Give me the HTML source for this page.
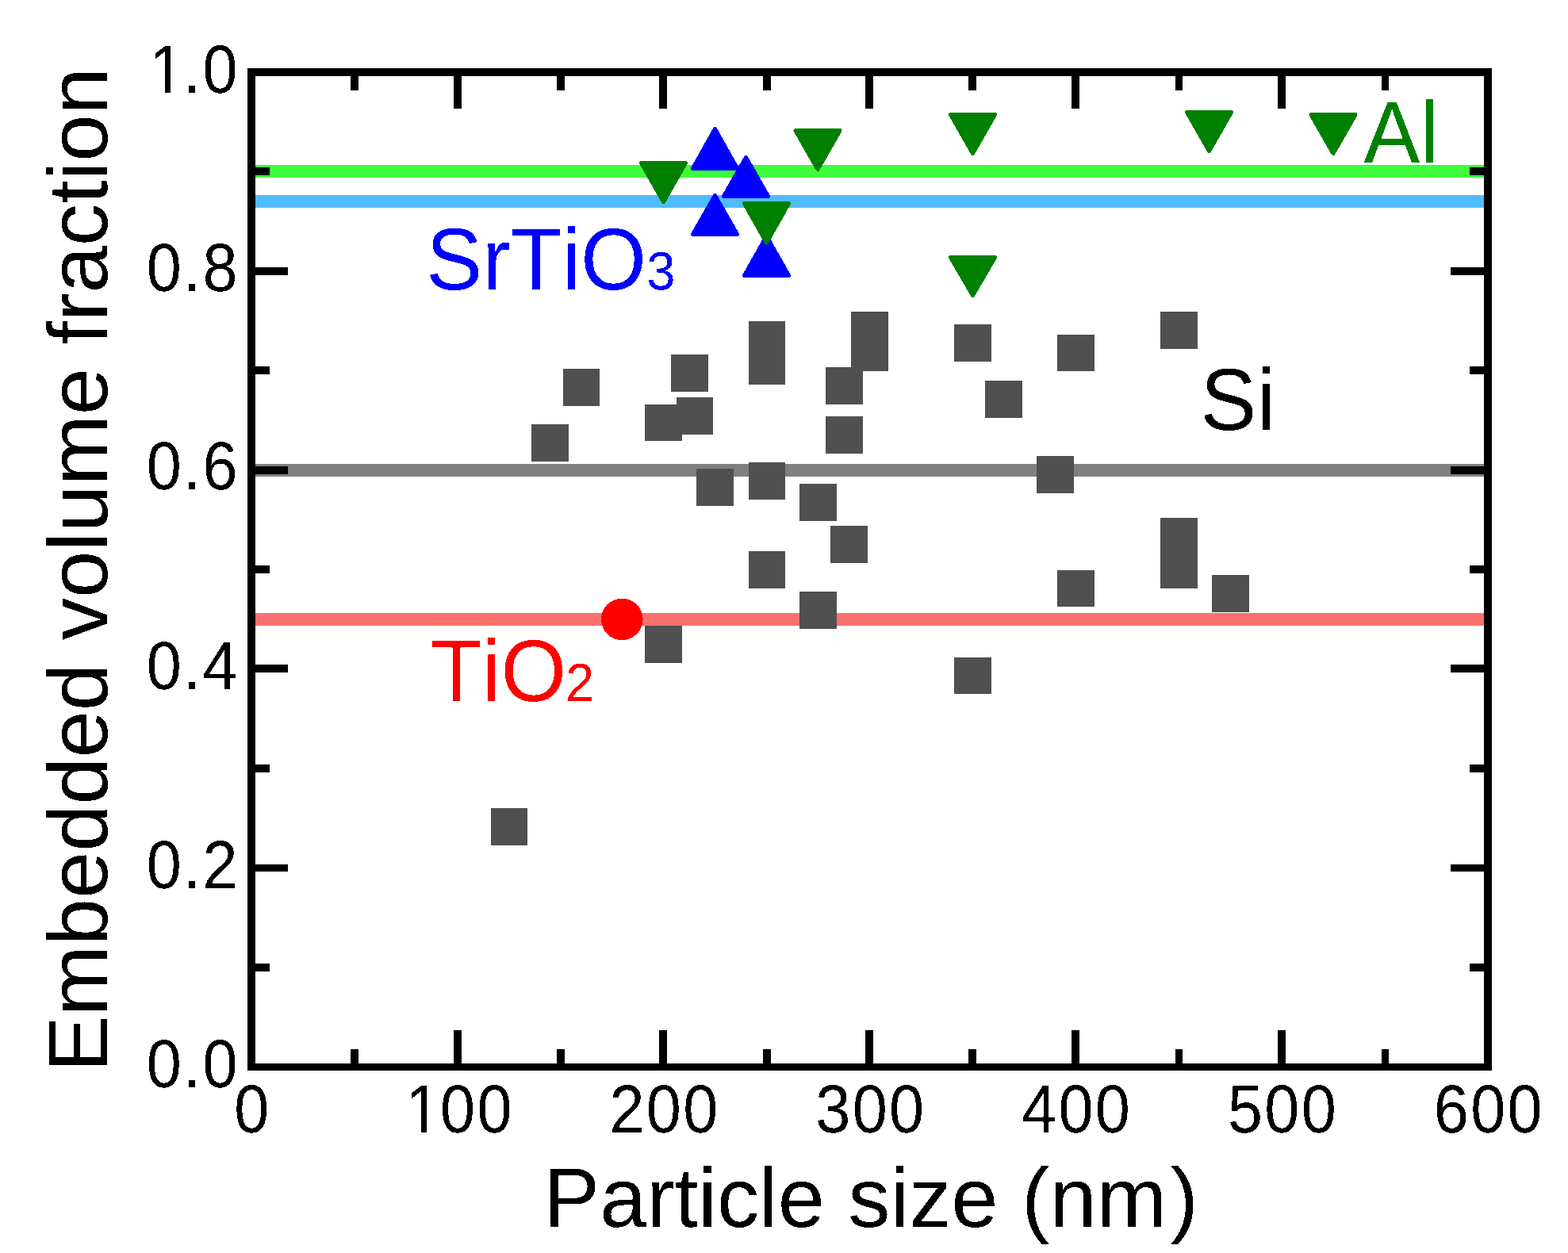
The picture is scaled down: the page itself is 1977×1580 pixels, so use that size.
<!DOCTYPE html>
<html lang="en"><head><meta charset="utf-8"><title>Embedded volume fraction vs particle size</title>
<style>
html,body{margin:0;padding:0;background:#fff;}
body{width:1977px;height:1580px;overflow:hidden;}
svg{display:block;}
text{font-family:"Liberation Sans", sans-serif;font-kerning:none;font-variant-ligatures:none;text-rendering:geometricPrecision;}
</style>
</head><body>
<svg width="1977" height="1580" viewBox="0 0 1977 1580">
<defs><filter id="hard" x="-5%" y="-5%" width="110%" height="110%" color-interpolation-filters="sRGB"><feComponentTransfer><feFuncA type="discrete" tableValues="0 1"/></feComponentTransfer></filter></defs>
<rect x="0" y="0" width="1977" height="1580" fill="#ffffff"/>
<g shape-rendering="crispEdges">
<rect x="322" y="208" width="1549" height="16" fill="#3cfc3c"/>
<rect x="322" y="246" width="1549" height="16" fill="#50bcfc"/>
<rect x="322" y="585" width="1549" height="16" fill="#808080"/>
<rect x="322" y="773" width="1549" height="16" fill="#fc7070"/>
</g>
<g fill="#505050" shape-rendering="crispEdges">
<rect x="619" y="1019" width="46" height="47"/>
<rect x="670" y="535" width="47" height="47"/>
<rect x="710" y="465" width="46" height="47"/>
<rect x="813" y="510" width="47" height="46"/>
<rect x="853" y="501" width="46" height="47"/>
<rect x="846" y="447" width="47" height="47"/>
<rect x="878" y="591" width="47" height="47"/>
<rect x="944" y="405" width="46" height="47"/>
<rect x="944" y="438" width="46" height="47"/>
<rect x="944" y="583" width="46" height="47"/>
<rect x="944" y="695" width="46" height="47"/>
<rect x="1008" y="610" width="47" height="47"/>
<rect x="1008" y="746" width="47" height="47"/>
<rect x="1041" y="463" width="47" height="47"/>
<rect x="1041" y="525" width="47" height="47"/>
<rect x="1047" y="663" width="47" height="47"/>
<rect x="1073" y="393" width="47" height="47"/>
<rect x="1073" y="421" width="47" height="47"/>
<rect x="1203" y="409" width="47" height="47"/>
<rect x="1203" y="829" width="47" height="46"/>
<rect x="1242" y="480" width="47" height="47"/>
<rect x="1307" y="575" width="47" height="47"/>
<rect x="1333" y="422" width="47" height="46"/>
<rect x="1333" y="719" width="47" height="46"/>
<rect x="1463" y="393" width="47" height="47"/>
<rect x="1463" y="653" width="47" height="47"/>
<rect x="1463" y="695" width="47" height="47"/>
<rect x="1528" y="725" width="47" height="47"/>
<rect x="813" y="789" width="47" height="47"/>
</g>
<circle cx="784.3" cy="780.9" r="26.3" fill="#ff0000" shape-rendering="crispEdges"/>
<g fill="#0000ff" stroke="#0000ff" stroke-width="5.2" stroke-linejoin="round" shape-rendering="crispEdges">
<path d="M901.5 162.6L929.4 212.4L873.6 212.4Z"/>
<path d="M940.5 198.6L968.4 247.4L912.6 247.4Z"/>
<path d="M901.5 246.6L929.4 295.4L873.6 295.4Z"/>
<path d="M966.5 298.1L994.4 347.4L938.6 347.4Z"/>
</g>
<g fill="#008000" stroke="#008000" stroke-width="5.2" stroke-linejoin="round" shape-rendering="crispEdges">
<path d="M808.6 205.6L864.4 205.6L836.5 254.4Z"/>
<path d="M1003.1 164.6L1058.9 164.6L1031.0 213.4Z"/>
<path d="M938.6 256.6L994.4 256.6L966.5 305.9Z"/>
<path d="M1198.6 144.6L1254.4 144.6L1226.5 193.4Z"/>
<path d="M1198.6 324.6L1254.4 324.6L1226.5 372.4Z"/>
<path d="M1496.6 141.6L1552.4 141.6L1524.5 190.4Z"/>
<path d="M1653.1 144.6L1708.9 144.6L1681.0 193.4Z"/>
</g>
<g fill="#000000" shape-rendering="crispEdges">
<rect x="312" y="86" width="1569" height="10"/>
<rect x="312" y="1341" width="1569" height="9"/>
<rect x="312" y="86" width="10" height="1264"/>
<rect x="1871" y="86" width="10" height="1264"/>
<rect x="442" y="1323" width="10" height="18"/>
<rect x="442" y="96" width="10" height="18"/>
<rect x="572" y="1299" width="10" height="42"/>
<rect x="572" y="96" width="10" height="41"/>
<rect x="702" y="1323" width="10" height="18"/>
<rect x="702" y="96" width="10" height="18"/>
<rect x="831" y="1299" width="10" height="42"/>
<rect x="831" y="96" width="10" height="41"/>
<rect x="962" y="1323" width="10" height="18"/>
<rect x="962" y="96" width="10" height="18"/>
<rect x="1091" y="1299" width="10" height="42"/>
<rect x="1091" y="96" width="10" height="41"/>
<rect x="1221" y="1323" width="10" height="18"/>
<rect x="1221" y="96" width="10" height="18"/>
<rect x="1351" y="1299" width="10" height="42"/>
<rect x="1351" y="96" width="10" height="41"/>
<rect x="1482" y="1323" width="9" height="18"/>
<rect x="1482" y="96" width="9" height="18"/>
<rect x="1611" y="1299" width="10" height="42"/>
<rect x="1611" y="96" width="10" height="41"/>
<rect x="1742" y="1323" width="9" height="18"/>
<rect x="1742" y="96" width="9" height="18"/>
<rect x="322" y="1215" width="18" height="10"/>
<rect x="1853" y="1215" width="18" height="10"/>
<rect x="322" y="1090" width="41" height="9"/>
<rect x="1829" y="1090" width="42" height="9"/>
<rect x="322" y="964" width="18" height="10"/>
<rect x="1853" y="964" width="18" height="10"/>
<rect x="322" y="838" width="41" height="10"/>
<rect x="1829" y="838" width="42" height="10"/>
<rect x="322" y="713" width="18" height="10"/>
<rect x="1853" y="713" width="18" height="10"/>
<rect x="322" y="588" width="41" height="10"/>
<rect x="1829" y="588" width="42" height="10"/>
<rect x="322" y="462" width="18" height="10"/>
<rect x="1853" y="462" width="18" height="10"/>
<rect x="322" y="337" width="41" height="10"/>
<rect x="1829" y="337" width="42" height="10"/>
<rect x="322" y="211" width="18" height="10"/>
<rect x="1853" y="211" width="18" height="10"/>
</g>
<g>
<text transform="translate(295.17 1428.00) scale(0.950 1.030)" font-size="83.4" letter-spacing="2.44" fill="#000" filter="url(#hard)">0</text>
<text transform="translate(508.62 1428.00) scale(0.950 1.030)" font-size="83.4" letter-spacing="2.44" fill="#000" dx="2.59 -2.59" filter="url(#hard)">100</text><rect x="514" y="1420" width="17" height="10" fill="#fff" shape-rendering="crispEdges"/><rect x="538" y="1420" width="17" height="10" fill="#fff" shape-rendering="crispEdges"/>
<text transform="translate(768.45 1428.00) scale(0.950 1.030)" font-size="83.4" letter-spacing="2.44" fill="#000" filter="url(#hard)">200</text>
<text transform="translate(1028.29 1428.00) scale(0.950 1.030)" font-size="83.4" letter-spacing="2.44" fill="#000" filter="url(#hard)">300</text>
<text transform="translate(1288.12 1428.00) scale(0.950 1.030)" font-size="83.4" letter-spacing="2.44" fill="#000" filter="url(#hard)">400</text>
<text transform="translate(1547.95 1428.00) scale(0.950 1.030)" font-size="83.4" letter-spacing="2.44" fill="#000" filter="url(#hard)">500</text>
<text transform="translate(1807.79 1428.00) scale(0.950 1.030)" font-size="83.4" letter-spacing="2.44" fill="#000" filter="url(#hard)">600</text>
<text transform="translate(184.80 1371.00) scale(0.950 1.030)" font-size="83.4" letter-spacing="2.44" fill="#000" filter="url(#hard)">0.0</text>
<text transform="translate(184.80 1120.00) scale(0.950 1.030)" font-size="83.4" letter-spacing="2.44" fill="#000" filter="url(#hard)">0.2</text>
<text transform="translate(184.80 868.50) scale(0.950 1.030)" font-size="83.4" letter-spacing="2.44" fill="#000" filter="url(#hard)">0.4</text>
<text transform="translate(184.80 617.30) scale(0.950 1.030)" font-size="83.4" letter-spacing="2.44" fill="#000" filter="url(#hard)">0.6</text>
<text transform="translate(184.80 366.50) scale(0.950 1.030)" font-size="83.4" letter-spacing="2.44" fill="#000" filter="url(#hard)">0.8</text>
<text transform="translate(184.80 116.50) scale(0.950 1.030)" font-size="83.4" letter-spacing="2.44" fill="#000" dx="3.45 -3.45" filter="url(#hard)">1.0</text><rect x="191" y="108" width="17" height="10" fill="#fff" shape-rendering="crispEdges"/><rect x="215" y="108" width="17" height="10" fill="#fff" shape-rendering="crispEdges"/>
<text x="685.3" y="1547.0" dx="0 0 0 0 0 0 0 0 0 0 0 0 0 0 0 0 0 4.5" font-size="106.3" fill="#000" filter="url(#hard)">Particle size (nm)</text>
<text transform="translate(135 1351.9) rotate(-90)" font-size="106.49" fill="#000" filter="url(#hard)">Embedded volume fraction</text>
<text transform="translate(537.3 365.0) scale(1 1.040)" font-size="106.3" fill="#0000ff" filter="url(#hard)">SrTiO<tspan font-size="65.2" dx="0.3">3</tspan></text>
<text transform="translate(543.0 884.2) scale(1 1.040)" font-size="106.3" fill="#ff0000" filter="url(#hard)">TiO<tspan font-size="65.2" dx="-1.2">2</tspan></text>
<text transform="translate(1513.5 541.5) scale(1 1.040)" font-size="106.3" fill="#000000" filter="url(#hard)">Si</text>
<text transform="translate(1719.6 204.5) scale(1 1.040)" font-size="106.3" fill="#008000" filter="url(#hard)">Al</text>
</g>
</svg>
</body></html>
